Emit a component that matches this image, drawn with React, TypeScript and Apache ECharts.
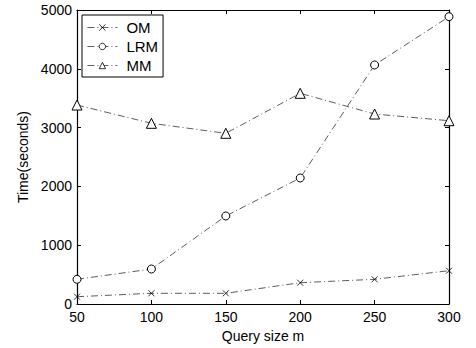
import React, { useEffect, useRef } from "react";
import * as echarts from "echarts";

const querySizes = [50, 100, 150, 200, 250, 300];
const omTimes = [124, 182, 182, 362, 420, 566];
const lrmTimes = [420, 595, 1497, 2143, 4065, 4886];
const mmTimes = [3384, 3073, 2903, 3583, 3231, 3117];
const seriesNames = ["OM", "LRM", "MM"];

const FONT = "Liberation Sans, Arial, Helvetica, sans-serif";

export default function App() {
  const ref = useRef<HTMLDivElement>(null);
  useEffect(() => {
    if (!ref.current) return;
    const chart = echarts.init(ref.current, undefined, { renderer: "svg" });
    const lineStyle = { color: "#333", width: 0.8, type: [7, 3, 1, 3] as any };
    const itemStyle = { color: "#fff", borderColor: "#000", borderWidth: 1 };
    const mk = (vals: number[]) => querySizes.map((x, i) => [x, vals[i]]);
    const tickCommon = { show: true, inside: true, length: 4, lineStyle: { color: "#000", width: 1 } };
    const lineCommon = { show: true, onZero: false, lineStyle: { color: "#000", width: 1.2 } };
    const plain = (v: number) => String(v);
    chart.setOption({
      animation: false,
      backgroundColor: "#fff",
      grid: { left: 77, right: 27, top: 10, bottom: 44, show: false },
      legend: {
        orient: "vertical",
        left: 82,
        top: 15,
        padding: [5, 5, 4, 5],
        itemGap: 4,
        itemWidth: 30,
        itemHeight: 8,
        borderColor: "#000",
        borderWidth: 1,
        backgroundColor: "#fff",
        data: seriesNames,
        itemStyle: { borderWidth: 0.8 },
        lineStyle: { width: 0.8 },
        textStyle: { fontFamily: FONT, fontSize: 15, color: "#000", padding: [0, 0, 0, 4] },
      },
      xAxis: [
        {
          type: "value",
          min: 50,
          max: 300,
          interval: 50,
          position: "bottom",
          axisLine: lineCommon,
          axisTick: tickCommon,
          splitLine: { show: false },
          axisLabel: { fontFamily: FONT, fontSize: 14, color: "#000", margin: 6, formatter: plain },
          name: "Query size m",
          nameLocation: "middle",
          nameGap: 22,
          nameTextStyle: { fontFamily: FONT, fontSize: 14, color: "#000" },
        },
        {
          type: "value",
          min: 50,
          max: 300,
          interval: 50,
          position: "top",
          axisLine: lineCommon,
          axisTick: tickCommon,
          splitLine: { show: false },
          axisLabel: { show: false },
        },
      ],
      yAxis: [
        {
          type: "value",
          min: 0,
          max: 5000,
          interval: 1000,
          position: "left",
          axisLine: lineCommon,
          axisTick: tickCommon,
          splitLine: { show: false },
          axisLabel: { fontFamily: FONT, fontSize: 14, color: "#000", margin: 5, formatter: plain },
          name: "Time(seconds)",
          nameLocation: "middle",
          nameGap: 39,
          nameTextStyle: { fontFamily: FONT, fontSize: 14, color: "#000" },
        },
        {
          type: "value",
          min: 0,
          max: 5000,
          interval: 1000,
          position: "right",
          axisLine: lineCommon,
          axisTick: tickCommon,
          splitLine: { show: false },
          axisLabel: { show: false },
        },
      ],
      series: [
        {
          name: "OM",
          type: "line",
          data: mk(omTimes),
          symbol: "path://M0,0L10,10M10,0L0,10",
          symbolSize: 6,
          lineStyle,
          itemStyle: { color: "none", borderColor: "#000", borderWidth: 0.8 },
        },
        {
          name: "LRM",
          type: "line",
          data: mk(lrmTimes),
          symbol: "circle",
          symbolSize: 8,
          lineStyle,
          itemStyle,
        },
        {
          name: "MM",
          type: "line",
          data: mk(mmTimes),
          symbol: "triangle",
          symbolSize: 10,
          lineStyle,
          itemStyle,
        },
      ],
    });
    return () => chart.dispose();
  }, []);
  return <div ref={ref} style={{ width: 476, height: 348, position: "absolute", left: 0, top: 0 }} />;
}
